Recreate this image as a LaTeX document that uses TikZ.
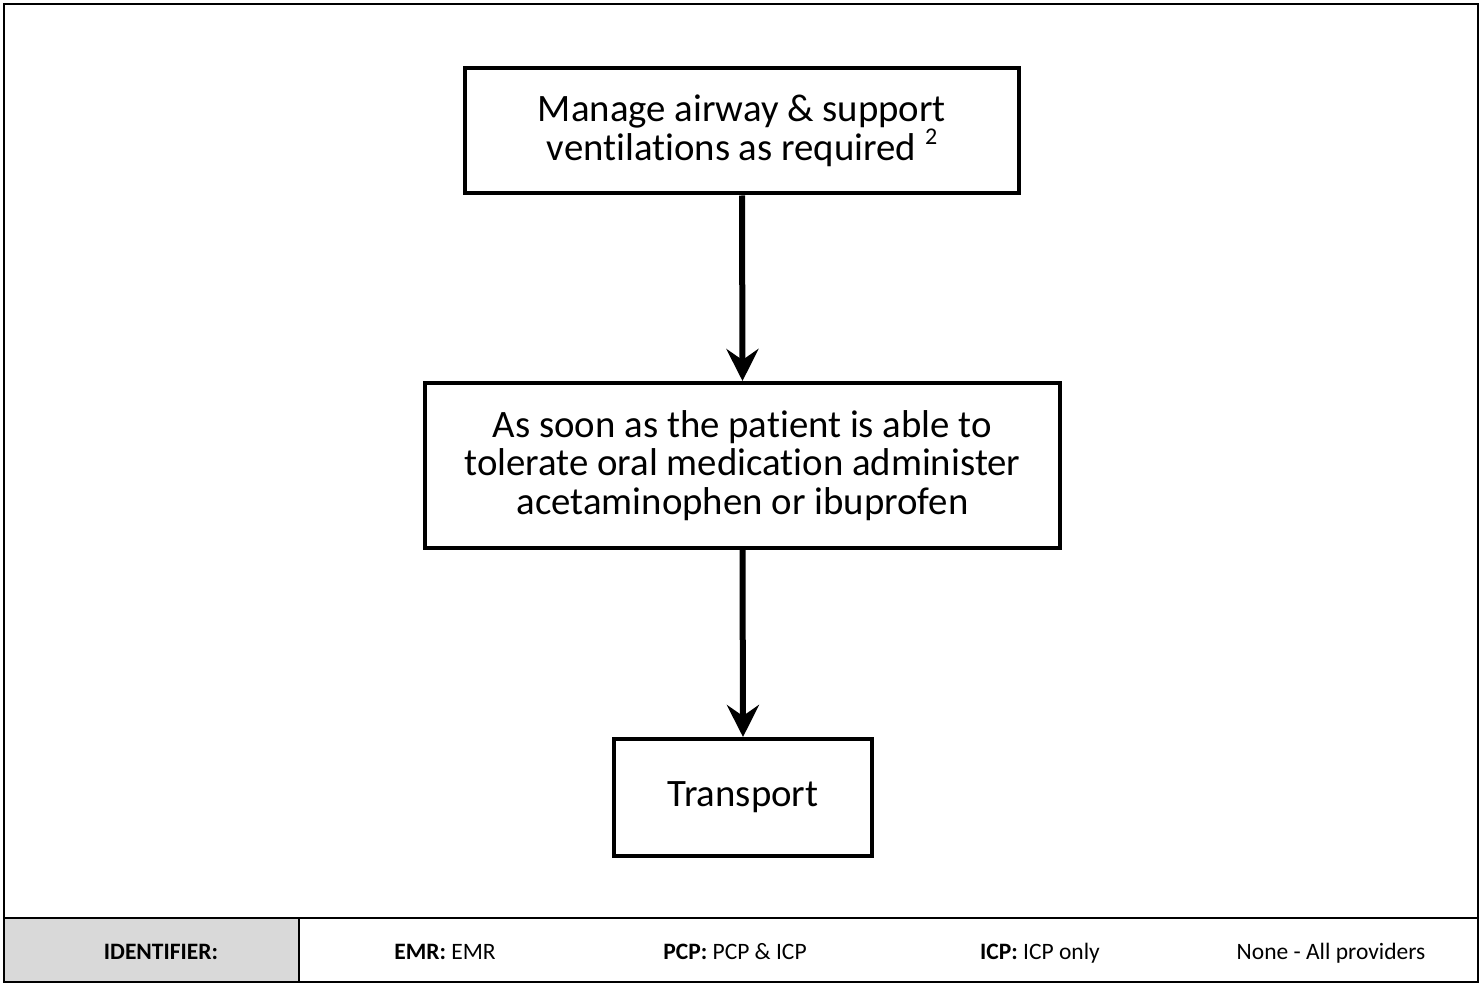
\documentclass[tikz,border=0pt]{standalone}
\usepackage{fontspec}
\setmainfont{Carlito}[RawFeature=-liga]
\usetikzlibrary{arrows.meta}
\definecolor{cellgray}{HTML}{D9D9D9}
\begin{document}
\begin{tikzpicture}[x=1pt,y=-1pt,
  box/.style={draw,line width=4pt,fill=white,align=center,inner sep=0pt,
    font=\fontsize{38.8}{38.5}\selectfont},
  flow/.style={line width=6pt,-{Stealth[length=32pt,width=32pt,inset=11pt]}},
  foot/.style={font=\fontsize{23.5}{26}\selectfont,anchor=base,inner sep=0pt},
  frameline/.style={line width=2pt}]
\useasboundingbox (0,0) rectangle (1483,984);
\fill[cellgray] (4,918) rectangle (299,982);
\draw[frameline] (4,4) rectangle (1478,982);
\draw[frameline] (4,918) -- (1478,918);
\draw[frameline] (299,918) -- (299,982);

\node[box,minimum width=554pt,minimum height=125pt] (b1) at (742,131)
  {Manage airway \& support\\ventilations as required \raisebox{0.42em}[0pt][0pt]{\fontsize{24}{24}\selectfont 2}};
\node[box,minimum width=635pt,minimum height=165pt] (b2) at (742.5,465.5)
  {As soon as the patient is able to\\tolerate oral medication administer\\acetaminophen or ibuprofen};
\node[box,minimum width=258pt,minimum height=117pt] (b3) at (743,797.5)
  {Transport};

\draw[flow] (b1.south) -- (b2.north);
\draw[flow] (b2.south) -- (b3.north);

\node[foot] (f0) at (161,959) {\textbf{IDENTIFIER:}};
\node[foot] (f1) at (445,959) {\textbf{EMR:} EMR};
\node[foot] (f2) at (735,959) {\textbf{PCP:} PCP \& ICP};
\node[foot] (f3) at (1040,959) {\textbf{ICP:} ICP only};
\node[foot] (f4) at (1331,959) {None - All providers};
\end{tikzpicture}
\end{document}
